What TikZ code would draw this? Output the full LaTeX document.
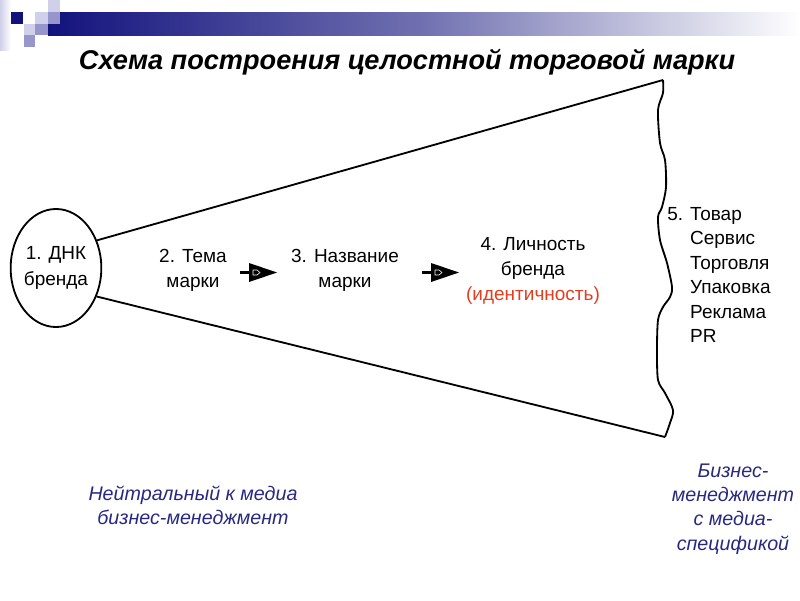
\documentclass[tikz,border=0pt]{standalone}
\usepackage{fontspec}
\setmainfont{Liberation Sans}
\usetikzlibrary{shapes.geometric}

\definecolor{barnavy}{RGB}{18,18,125}
\definecolor{lavlight}{RGB}{208,208,234}
\definecolor{lavmid}{RGB}{150,150,204}
\definecolor{notenavy}{RGB}{40,40,130}
\definecolor{brandred}{RGB}{228,60,30}

\begin{document}
\begin{tikzpicture}[x=0.025cm,y=-0.025cm,
  txt/.style={font=\fontsize{13.5}{18}\selectfont, align=center, inner sep=0pt},
  note/.style={font=\fontsize{14}{17.2}\selectfont\itshape, text=notenavy, align=center, inner sep=0pt},
  edge/.style={line width=1.3pt}]
\useasboundingbox (0,0) rectangle (800,600);

% header bar
\shade[left color=lavlight, right color=white] (0,0) rectangle (11,50);
\shade[left color=barnavy, right color=white, middle color=barnavy!60!white] (48,12) rectangle (800,35);
\fill[barnavy] (11,12) rectangle (23,24);
\fill[lavlight] (48,0) rectangle (60,12);
\fill[lavmid] (48,12) rectangle (60,24);
\fill[lavlight] (35,12) rectangle (48,24);
\fill[lavmid] (35,24) rectangle (48,35);
\fill[lavlight] (24,24) rectangle (35,35);
\fill[lavmid] (24,35) rectangle (35,47);

\node[font=\fontsize{19.3}{22}\selectfont\bfseries\itshape] (title) at (407,62) {Схема построения целостной торговой марки};

\node[draw, edge, ellipse, minimum width=2.05cm, minimum height=2.95cm, inner sep=0pt,
  font=\fontsize{13.5}{18}\selectfont, align=center] (dnk) at (56,268) {1. ДНК\\бренда};
\coordinate (wtop) at (663,80);
\coordinate (wbot) at (665,437);

\draw[edge] (dnk.34)--(wtop);
\draw[edge] (dnk.-35)--(wbot);
\draw[edge] plot[smooth] coordinates {(wtop) (663,93) (658,110) (660,143) (665,160) (666,187)
  (662,207) (658,217) (660,240) (667,263) (672,287) (670,297) (663,307) (658,320)
  (657,350) (658,380) (665,393) (673,410) (670,423) (wbot)};

\node[txt] (tema) at (193,270) {2. Тема\\марки};
\node[txt] (nazv) at (345,270) {3. Название\\марки};
\node[txt] (lich) at (533,271) {4. Личность\\бренда\\\textcolor{brandred}{(идентичность)}};
\node[txt, align=left, anchor=north west, font=\fontsize{13.5}{17.4}\selectfont] (tovar) at (667,207)
  {5. Товар\\\phantom{5. }Сервис\\\phantom{5. }Торговля\\\phantom{5. }Упаковка\\\phantom{5. }Реклама\\\phantom{5. }PR};

\coordinate (ar1) at (240,272.5);
\coordinate (ar2) at (422,272.5);
\foreach \a in {ar1,ar2}{
\draw[line width=2pt, shift={(\a)}] (0,0)--(11,0);
\fill[shift={(\a)}] (9,-9.5)--(9,9.5)--(37,0)--cycle;
\draw[white, line width=0.4pt, shift={(\a)}] (13,-2.5)--(17,-2.5)--(20,0)--(17,2.5)--(13,2.5)--cycle;
}

\node[note] (neutral) at (193,505) {Нейтральный к медиа\\бизнес-менеджмент};
\node[note] (specific) at (733,509) {Бизнес-\\менеджмент\\с медиа-\\спецификой};

\end{tikzpicture}
\end{document}
